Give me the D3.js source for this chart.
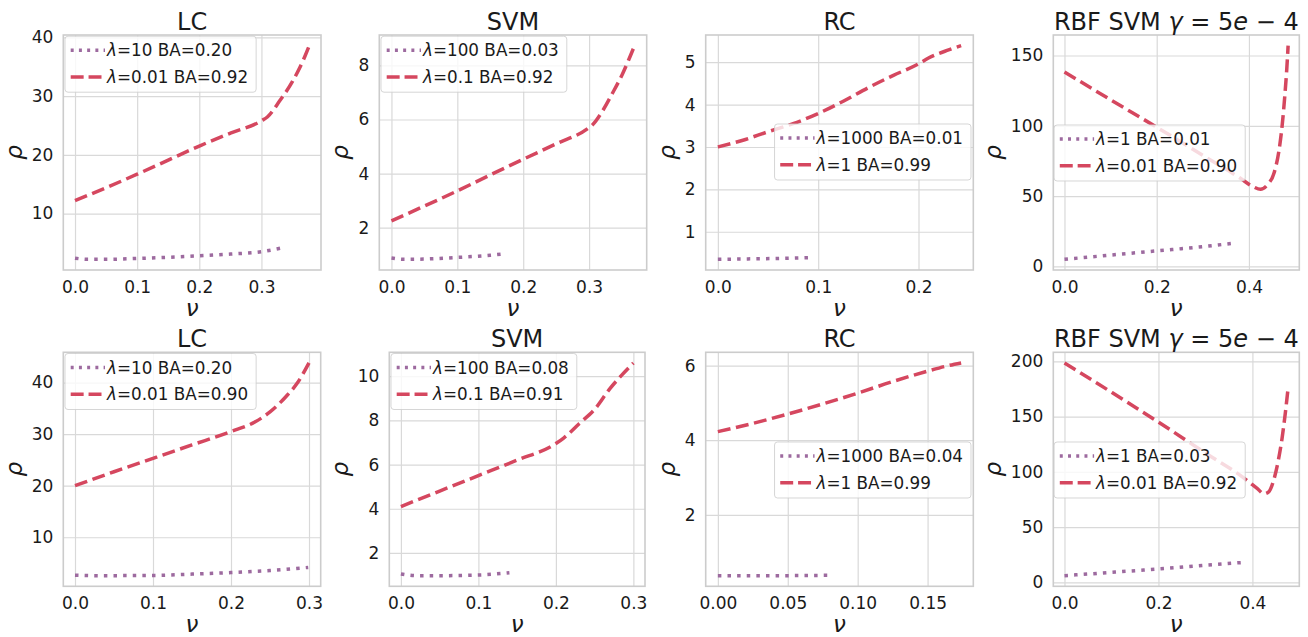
<!DOCTYPE html>
<html><head><meta charset="utf-8">
<script src="https://cdn.jsdelivr.net/npm/d3@7"></script>
<style>body{margin:0;background:#fff} svg{font-family:"DejaVu Sans",sans-serif}</style>
</head><body><svg id="c" width="1308" height="637"></svg>
<script>
// ---------- data ----------
const titles = ["LC","SVM","RC","RBF","LC","SVM","RC","RBF"];
const lowLambda  = ["10","100","1000","1","10","100","1000","1"];
const lowBA      = ["0.20","0.03","0.01","0.01","0.20","0.08","0.04","0.03"];
const highLambda = ["0.01","0.1","1","0.01","0.01","0.1","1","0.01"];
const highBA     = ["0.92","0.92","0.99","0.90","0.90","0.91","0.99","0.92"];

// [nu, rho]
const lcTopLow  = [[0,2.4],[0.02,2.2],[0.05,2.2],[0.1,2.35],[0.15,2.55],[0.2,2.8],[0.25,3.1],[0.3,3.5],[0.331,4.1]];
const lcTopHigh = [[0,12.2],[0.05,14.4],[0.1,16.7],[0.15,19.1],[0.2,21.5],[0.25,23.7],[0.3,25.8],[0.31,26.5],[0.33,29.3],[0.35,32.5],[0.36,34.5],[0.37,36.8],[0.377,38.6]];
const svmTopLow  = [[0,0.88],[0.02,0.83],[0.05,0.84],[0.1,0.9],[0.15,0.98],[0.166,1.02]];
const svmTopHigh = [[0,2.25],[0.05,2.8],[0.1,3.36],[0.15,3.95],[0.2,4.53],[0.25,5.1],[0.3,5.7],[0.305,5.8],[0.32,6.3],[0.335,6.95],[0.35,7.65],[0.36,8.2],[0.369,8.73]];
const rcTopLow  = [[0,0.35],[0.03,0.36],[0.06,0.37],[0.09,0.39]];
const rcTopHigh = [[0,3.0],[0.025,3.16],[0.05,3.36],[0.075,3.55],[0.1,3.79],[0.125,4.08],[0.15,4.4],[0.175,4.69],[0.2,4.96],[0.21,5.1],[0.23,5.29],[0.2425,5.39]];
const rbfTopLow  = [[0,5],[0.1,8],[0.2,11],[0.3,14],[0.367,16.5]];
const rbfTopHigh = [[0,138.3],[0.1,118.5],[0.2,99],[0.3,79],[0.38,63],[0.41,56.5],[0.425,54.8],[0.44,58],[0.455,67],[0.465,82],[0.472,100],[0.478,122],[0.482,140],[0.485,157]];
const lcBotLow  = [[0,2.65],[0.03,2.55],[0.1,2.6],[0.15,2.85],[0.2,3.15],[0.25,3.55],[0.299,4.15]];
const lcBotHigh = [[0,20],[0.05,22.7],[0.1,25.3],[0.15,27.9],[0.2,30.5],[0.23,32.3],[0.25,34.3],[0.27,37.2],[0.285,39.9],[0.3,43.8]];
const svmBotLow  = [[0,1.05],[0.02,0.97],[0.05,0.97],[0.1,1.0],[0.14,1.1]];
const svmBotHigh = [[0,4.1],[0.05,4.8],[0.1,5.5],[0.15,6.2],[0.2,6.95],[0.21,7.2],[0.23,7.85],[0.25,8.5],[0.27,9.45],[0.285,10.05],[0.3,10.6]];
const rcBotLow  = [[0,0.37],[0.04,0.37],[0.079,0.38]];
const rcBotHigh = [[0,4.23],[0.025,4.45],[0.05,4.7],[0.075,4.97],[0.1,5.26],[0.125,5.57],[0.15,5.85],[0.165,6.0],[0.174,6.07]];
const rbfBotLow  = [[0,6],[0.1,9],[0.2,12],[0.3,15.5],[0.382,18]];
const rbfBotHigh = [[0,198.5],[0.1,172],[0.2,145],[0.3,117],[0.38,95],[0.41,85],[0.425,80],[0.435,82],[0.445,92],[0.455,110],[0.463,130],[0.47,153],[0.476,176]];

const lowSeries  = [lcTopLow, svmTopLow, rcTopLow, rbfTopLow, lcBotLow, svmBotLow, rcBotLow, rbfBotLow];
const highSeries = [lcTopHigh, svmTopHigh, rcTopHigh, rbfTopHigh, lcBotHigh, svmBotHigh, rcBotHigh, rbfBotHigh];

const xTicks = [[0,0.1,0.2,0.3],[0,0.1,0.2,0.3],[0,0.1,0.2],[0,0.2,0.4],
                [0,0.1,0.2,0.3],[0,0.1,0.2,0.3],[0,0.05,0.1,0.15],[0,0.2,0.4]];
const xDecimals = [1,1,1,1,1,1,2,1];
const yTicks = [[10,20,30,40],[2,4,6,8],[1,2,3,4,5],[0,50,100,150],
                [10,20,30,40],[2,4,6,8,10],[2,4,6],[0,50,100,150,200]];

// ---------- layout / style ----------
const boxes = [
  {l:63.3,t:35,r:321,b:270},{l:379.3,t:35,r:646.7,b:270},{l:705.7,t:35,r:973.3,b:270},{l:1053.3,t:35,r:1299.3,b:270},
  {l:63.3,t:352.3,r:320.7,b:586.3},{l:389.3,t:352.3,r:645,b:586.3},{l:705.7,t:352.3,r:973.3,b:586.3},{l:1053.3,t:352.3,r:1299.3,b:586.3}
];
const legendPlace = [
  {side:"left",dx:1.7,dy:1.2},{side:"left",dx:1.7,dy:1.2},{side:"right",dx:2.3,dy:89},{side:"left",dx:0.8,dy:90},
  {side:"left",dx:1.7,dy:1.2},{side:"left",dx:1.7,dy:1.2},{side:"right",dx:2.3,dy:89.7},{side:"left",dx:0.8,dy:89.7}
];
const cLow = "#9d6a9f", cHigh = "#d5475f";
const LW = 3.5;
const grid = "#d9d9d9", spine = "#cccccc";
const tickFS = 17, legFS = 16.8, titleFS = 24, labFS = 23;

const svg = d3.select("#c");

function pad(ext){ const s = ext[1]-ext[0]; return [ext[0]-0.05*s, ext[1]+0.05*s]; }

for (let i=0;i<8;i++){
  const B = boxes[i];
  const low = lowSeries[i], high = highSeries[i];
  const all = low.concat(high);
  const x = d3.scaleLinear().domain(pad(d3.extent(all,d=>d[0]))).range([B.l,B.r]);
  const y = d3.scaleLinear().domain(pad(d3.extent(all,d=>d[1]))).range([B.b,B.t]);
  const g = svg.append("g");
  const w = B.r-B.l, h = B.b-B.t;

  const xa = g.append("g").attr("transform",`translate(0,${B.b})`)
    .call(d3.axisBottom(x).tickValues(xTicks[i]).tickSize(-h).tickPadding(10.5)
      .tickFormat(d3.format("."+xDecimals[i]+"f")));
  const ya = g.append("g").attr("transform",`translate(${B.l},0)`)
    .call(d3.axisLeft(y).tickValues(yTicks[i]).tickSize(-w).tickPadding(10).tickFormat(d3.format("d")));
  [xa,ya].forEach(a=>{
    a.select(".domain").remove();
    a.selectAll("line").attr("stroke",grid).attr("stroke-width",1.2);
    a.selectAll("text").attr("fill","#1a1a1a").style("font-size",tickFS+"px").style("font-family","DejaVu Sans");
  });
  g.append("rect").attr("x",B.l).attr("y",B.t).attr("width",w).attr("height",h)
    .attr("fill","none").attr("stroke",spine).attr("stroke-width",1.6);

  const line = d3.line().x(d=>x(d[0])).y(d=>y(d[1])).curve(d3.curveMonotoneX);
  g.append("path").datum(low).attr("d",line).attr("fill","none").attr("stroke",cLow)
    .attr("stroke-width",LW).attr("stroke-dasharray",`${LW} ${LW*1.75}`);
  g.append("path").datum(high).attr("d",line).attr("fill","none").attr("stroke",cHigh)
    .attr("stroke-width",LW).attr("stroke-dasharray",`${LW*3.7} ${LW*1.6}`);

  const tt = g.append("text").attr("x",(B.l+B.r)/2).attr("y",B.t-5.5).attr("text-anchor","middle")
    .style("font-size",titleFS+"px").attr("fill","#1a1a1a");
  if (titles[i]==="RBF"){
    tt.append("tspan").text("RBF SVM ");
    tt.append("tspan").style("font-style","italic").text("γ");
    tt.append("tspan").text(" = 5");
    tt.append("tspan").style("font-style","italic").text("e");
    tt.append("tspan").text(" − 4");
  } else tt.text(titles[i]);

  let maxW = 0;
  ya.selectAll("text").each(function(){ maxW = Math.max(maxW, this.getComputedTextLength()); });
  const lx = B.l - 10 - maxW - 10;
  g.append("text").attr("transform",`translate(${lx},${(B.t+B.b)/2}) rotate(-90)`).attr("text-anchor","middle")
    .style("font-size",labFS+"px").style("font-style","italic").attr("fill","#1a1a1a").text("ρ");
  g.append("text").attr("x",(B.l+B.r)/2).attr("y",B.b+46).attr("text-anchor","middle")
    .style("font-size",labFS+"px").style("font-style","italic").attr("fill","#1a1a1a").text("ν");

  const lg = g.append("g");
  const rect = lg.append("rect");
  const entries = [
    {lam:lowLambda[i], ba:lowBA[i], c:cLow, dash:`${LW*0.85} ${LW*1.5}`},
    {lam:highLambda[i], ba:highBA[i], c:cHigh, dash:`${LW*3.7} ${LW*1.4}`}
  ];
  let tw = 0;
  entries.forEach((e,k)=>{
    const yy = 14 + k*26.7;
    lg.append("line").attr("x1",5.7).attr("x2",40).attr("y1",yy).attr("y2",yy)
      .attr("stroke",e.c).attr("stroke-width",LW).attr("stroke-dasharray",e.dash);
    const t = lg.append("text").attr("x",42).attr("y",yy).attr("dy","0.36em")
      .style("font-size",legFS+"px").attr("fill","#1a1a1a");
    t.append("tspan").style("font-style","italic").text("λ");
    t.append("tspan").text("="+e.lam+" BA="+e.ba);
    tw = Math.max(tw, t.node().getComputedTextLength());
  });
  const bw = 42 + tw + 8, bh = 56;
  rect.attr("width",bw).attr("height",bh).attr("rx",3).attr("fill","#ffffff").attr("fill-opacity",0.8)
    .attr("stroke","#cccccc").attr("stroke-opacity",0.8).attr("stroke-width",1);
  const P = legendPlace[i];
  const bx = P.side==="left" ? B.l + P.dx : B.r - P.dx - bw;
  lg.attr("transform",`translate(${bx},${B.t+P.dy})`);
}
</script></body></html>
